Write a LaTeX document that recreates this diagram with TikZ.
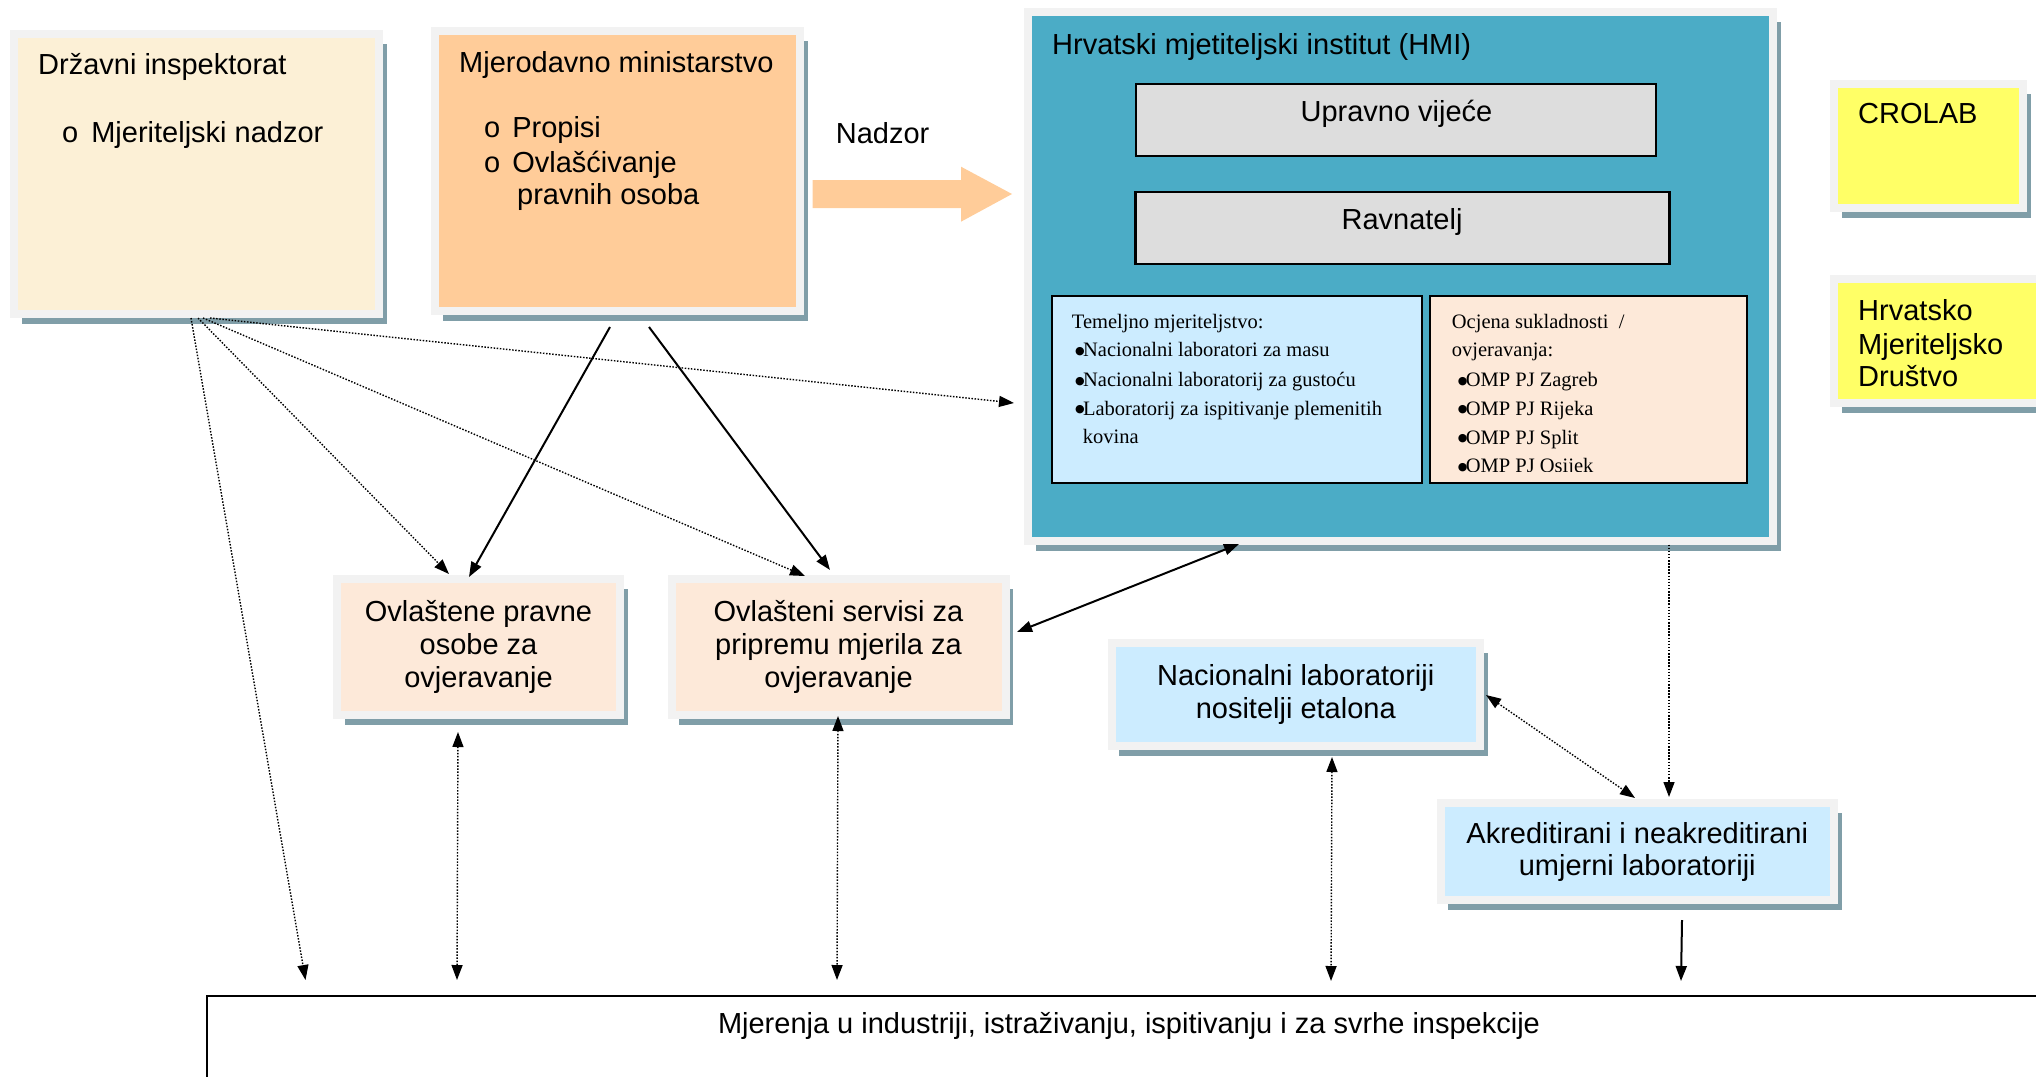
\documentclass[tikz,border=0pt]{standalone}
\usepackage{fontspec}
\setmainfont{Liberation Sans}
\newfontfamily\tnr{Liberation Serif}
\newfontfamily\dvs{DejaVu Sans}
\usetikzlibrary{arrows.meta,calc,shadows}
\definecolor{framec}{RGB}{242,242,242}
\definecolor{shadowc}{RGB}{128,158,168}
\definecolor{parch}{RGB}{252,240,214}
\definecolor{peach}{RGB}{255,204,153}
\definecolor{teal}{RGB}{75,172,198}
\definecolor{lgray}{RGB}{221,221,221}
\definecolor{lblue}{RGB}{204,236,255}
\definecolor{lrose}{RGB}{253,233,217}
\definecolor{yel}{RGB}{255,255,102}
\newcommand\bulmark{\makebox[7.9pt][l]{\raisebox{2.2pt}{\dvs\fontsize{11}{11}\selectfont ●}}}
\begin{document}
\begin{tikzpicture}[x=1pt,y=-1pt,
  every node/.style={inner sep=0pt},
  panel/.style={rectangle, draw=framec, line width=8pt,
    drop shadow={shadow xshift=7.5pt,shadow yshift=-10pt,fill=shadowc,opacity=1}},
  inbox/.style={rectangle, draw=black, line width=2.5pt},
  big/.style={font=\fontsize{29}{33}\selectfont},
  lbl/.style={big, anchor=base west},
  ctr/.style={big, anchor=base},
  ser/.style={font=\tnr\fontsize{20.5}{24}\selectfont, anchor=base west},
  tipA/.style={-{Triangle[length=15pt,width=11pt]}},
  tipB/.style={{Triangle[length=15pt,width=11pt]}-{Triangle[length=15pt,width=11pt]}},
  dots/.style={line width=1.4pt, dash pattern=on 1.5pt off 1.6pt},
  solid line/.style={line width=2pt}]
\useasboundingbox (0,0) rectangle (2036,1076);
\clip (0,0) rectangle (2036,1076);

% ---------- panels ----------
\node[panel, fill=parch, minimum width=365pt, minimum height=280pt] (drz) at (196.5,174) {};
\node[panel, fill=peach, minimum width=365pt, minimum height=280pt] (mjer) at (617.5,171) {};
\node[panel, fill=teal, minimum width=745pt, minimum height=528.5pt] (hmi) at (1400.5,276.25) {};
\node[panel, fill=yel, minimum width=189pt, minimum height=123.5pt] (crolab) at (1928.5,145.75) {};
\node[panel, fill=yel, minimum width=226pt, minimum height=124pt] (hmd) at (1947,341) {};
\node[panel, fill=lrose, minimum width=283pt, minimum height=135.5pt, big, align=center] (pravne) at (478.5,646.75) {Ovlaštene pravne\\osobe za\\ovjeravanje};
\node[panel, fill=lrose, minimum width=334pt, minimum height=135.5pt, big, align=center] (servisi) at (838.5,646.75) {Ovlašteni servisi za\\pripremu mjerila za\\ovjeravanje};
\node[panel, fill=lblue, minimum width=368.5pt, minimum height=103pt, big, align=center] (naclab) at (1295.75,694) {Nacionalni laboratoriji\\nositelji etalona};
\node[panel, fill=lblue, minimum width=393.5pt, minimum height=97pt, big, align=center, font=\fontsize{29}{32}\selectfont] (akred) at (1637.25,851.5) {Akreditirani i neakreditirani\\umjerni laboratoriji};
\node[rectangle, draw=black, line width=2pt, minimum width=1893pt, minimum height=124pt] (bottom) at (1153.5,1058) {};

% ---------- inside HMI ----------
\node[inbox, fill=lgray, minimum width=520pt, minimum height=72pt] (uprav) at (1395.75,120) {};
\node[inbox, fill=lgray, minimum width=534pt, minimum height=72pt] (ravn) at (1402.5,228) {};
\node[inbox, fill=lblue, line width=2pt, minimum width=369.5pt, minimum height=187pt] (tem) at (1236.75,389.5) {};
\node[inbox, fill=lrose, line width=2pt, minimum width=317pt, minimum height=187pt] (ocj) at (1588.5,389.5) {};

% ---------- texts ----------
\node[lbl] (drzT) at (38,74) {Državni inspektorat};
\node[lbl] (drzA) at (62,142) {o\hspace{13pt}Mjeriteljski nadzor};
\node[lbl] (mjerT) at (459,72) {Mjerodavno ministarstvo};
\node[lbl] (mjerA) at (484,137) {o\hspace{12pt}Propisi};
\node[lbl] (mjerB) at (484,172) {o\hspace{12pt}Ovlašćivanje};
\node[lbl] (mjerC) at (517,204) {pravnih osoba};
\node[lbl] (nadzorT) at (835.7,143) {Nadzor};
\node[lbl] (hmiT) at (1052,54) {Hrvatski mjetiteljski institut (HMI)};
\node[ctr] (upravT) at (1396.5,121) {Upravno vijeće};
\node[ctr] (ravnT) at (1402,229) {Ravnatelj};
\node[lbl] (crolabT) at (1858,123) {CROLAB};
\node[lbl] (hmdA) at (1858,320) {Hrvatsko};
\node[lbl] (hmdB) at (1858,354) {Mjeriteljsko};
\node[lbl] (hmdC) at (1858,386) {Društvo};
\node[ctr] (botT) at (1129,1033) {Mjerenja u industriji, istraživanju, ispitivanju i za svrhe inspekcije};

\node[ser] (temA) at (1071.7,328) {Temeljno mjeriteljstvo:};
\node[ser] (temB) at (1075,356.7) {\bulmark Nacionalni laboratori za masu};
\node[ser] (temC) at (1075,386.7) {\bulmark Nacionalni laboratorij za gustoću};
\node[ser] (temD) at (1075,415) {\bulmark Laboratorij za ispitivanje plemenitih};
\node[ser] (temE) at (1082.7,443) {kovina};

\node[ser] (ocjA) at (1451.7,328) {Ocjena sukladnosti \ /};
\node[ser] (ocjB) at (1451.7,356.7) {ovjeravanja:};
\node[ser] (ocjC) at (1457.7,386.7) {\bulmark OMP PJ Zagreb};
\node[ser] (ocjD) at (1457.7,415) {\bulmark OMP PJ Rijeka};
\node[ser] (ocjE) at (1457.7,444) {\bulmark OMP PJ Split};
\begin{scope}
  \clip (1431,297) rectangle (1746,471.3);
  \node[ser] (ocjF) at (1457.7,472.7) {\bulmark OMP PJ Osijek};
\end{scope}

% ---------- Nadzor block arrow ----------
\fill[peach] (812.7,180) -- (961,180) -- (961,166.7) -- (1012,194) -- (961,221.7) -- (961,208) -- (812.7,208) -- cycle;

% ---------- connectors ----------
\draw[dots, tipA] ($(drz.south)+(13.5,0)$) -- ($(hmi.west)+(-10,126.75)$);
\draw[dots, tipA] ($(drz.south)+(1.5,0)$) -- ($(pravne.north)+(-29.5,-1)$);
\draw[dots, tipA] ($(drz.south)+(6.5,0)$) -- ($(servisi.north)+(-33.5,1)$);
\draw[dots, tipA] ($(drz.south)+(-5.5,0)$) -- ($(bottom.north west)+(99.5,-15)$);
\draw[solid line, tipA] ($(mjer.south)+(-7.5,12)$) -- ($(pravne.north)+(-9.5,2)$);
\draw[solid line, tipA] ($(mjer.south)+(31.5,12)$) -- ($(servisi.north)+(-8.5,-5)$);
\draw[solid line, tipB] ($(servisi.east)+(7.5,-14.75)$) -- ($(hmi.south)+(-161.5,-0.5)$);
\draw[dots, tipA] ($(hmi.south)+(268.5,0)$) -- ($(akred.north)+(31.75,-2)$);
\draw[dots, tipB] ($(naclab.east)+(2,1)$) -- ($(akred.north)+(-2.25,-1)$);
\draw[dots, tipB] ($(naclab.south)+(36.25,7.5)$) -- ($(bottom.north west)+(1125,-14)$);
\draw[solid line, tipA] ($(akred.south)+(44.75,16)$) -- ($(bottom.north west)+(1475,-14)$);
\draw[dots, tipB] ($(pravne.south)+(-20.5,13.5)$) -- ($(bottom.north west)+(251,-15)$);
\draw[dots, tipB] ($(servisi.south)+(-0.5,-2.5)$) -- ($(bottom.north west)+(631,-15)$);
\end{tikzpicture}
\end{document}
